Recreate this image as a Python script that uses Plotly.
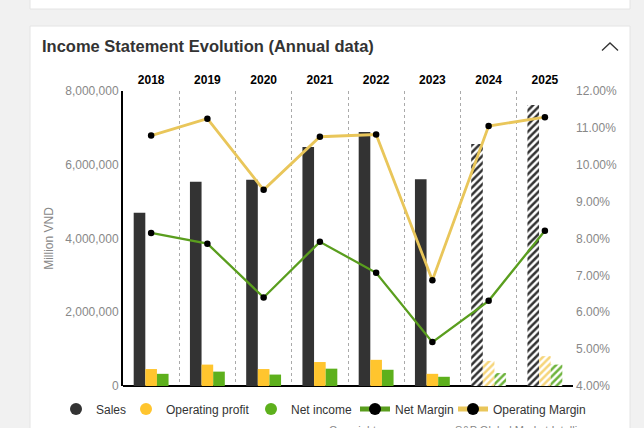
import plotly.graph_objects as go

# ---------------- data ----------------
years = ["2018", "2019", "2020", "2021", "2022", "2023", "2024", "2025"]
sales = [4700000, 5540000, 5590000, 6480000, 6890000, 5610000, 6560000, 7620000]
operating_profit = [460000, 580000, 460000, 650000, 710000, 330000, 680000, 810000]
net_income = [330000, 390000, 310000, 470000, 440000, 250000, 350000, 580000]
net_margin = [8.15, 7.86, 6.40, 7.91, 7.07, 5.19, 6.31, 8.21]
operating_margin = [10.79, 11.25, 9.32, 10.76, 10.82, 6.87, 11.05, 11.29]
forecast = [False, False, False, False, False, False, True, True]

# ---------------- layout helpers (pixel -> paper) ----------------
W, H = 644, 428
L, R, T, B = 123, 573, 91, 386
def px(x):
    return (x - L) / (R - L)
def py(y):
    return (B - y) / (B - T)

FONT = "Liberation Sans, Arial, sans-serif"
SALES_C = "#333333"
OP_C = "#FFC52E"
NI_C = "#5DB01C"
OPM_LINE = "#E9C65A"
NM_LINE = "#5A9E1E"


def hatched(base, hatch_fg):
    return dict(
        color=base,
        pattern=dict(
            shape=["/" if f else "" for f in forecast],
            fgcolor=[hatch_fg if f else base for f in forecast],
            bgcolor="white",
            fillmode="replace",
            size=5,
            solidity=0.5,
        ),
        line=dict(width=0),
    )

fig = go.Figure()

fig.add_trace(go.Bar(name="Sales", x=years, y=sales, marker=hatched(SALES_C, SALES_C),
                     showlegend=False, legendgroup="s"))
fig.add_trace(go.Bar(name="Operating profit", x=years, y=operating_profit,
                     marker=hatched(OP_C, "#F6D57A"), showlegend=False, legendgroup="o"))
fig.add_trace(go.Bar(name="Net income", x=years, y=net_income,
                     marker=hatched(NI_C, "#6DB33C"), showlegend=False, legendgroup="n"))

# legend entries with circle symbols for bar series
for nm, c, g, lg in [("Sales", SALES_C, "s", "legend"), ("Operating profit", OP_C, "o", "legend2"),
                     ("Net income", NI_C, "n", "legend3")]:
    fig.add_trace(go.Scatter(name=nm, x=[None], y=[None], mode="markers",
                             marker=dict(symbol="circle", size=9, color=c),
                             legendgroup=g, showlegend=True, legend=lg))

fig.add_trace(go.Scatter(name="Net Margin", x=years, y=net_margin, yaxis="y2",
                         mode="lines+markers", legend="legend4",
                         line=dict(color=NM_LINE, width=2.3),
                         marker=dict(color="black", size=6.5)))
fig.add_trace(go.Scatter(name="Operating Margin", x=years, y=operating_margin, yaxis="y2",
                         mode="lines+markers", legend="legend5",
                         line=dict(color=OPM_LINE, width=2.8),
                         marker=dict(color="black", size=6.5)))

shapes = [
    # page cards
    dict(type="rect", xref="paper", yref="paper", x0=px(30), x1=px(630), y0=py(-20), y1=py(9),
         fillcolor="white", line=dict(color="#e4e4e4", width=1), layer="below"),
    dict(type="rect", xref="paper", yref="paper", x0=px(30), x1=px(630), y0=py(450), y1=py(26),
         fillcolor="white", line=dict(color="#e4e4e4", width=1), layer="below"),
    # chevron icon
    dict(type="path", xref="paper", yref="paper",
         path=f"M {px(602)} {py(50.5)} L {px(610)} {py(43)} L {px(618)} {py(50.5)}",
         line=dict(color="#333333", width=1.3)),
]

annotations = [
    dict(text="<b>Income Statement Evolution (Annual data)</b>", xref="paper", yref="paper",
         x=px(40), y=py(46), xanchor="left", yanchor="middle", showarrow=False,
         font=dict(family=FONT, size=16.5, color="#333333")),
    dict(text="Copyright", xref="paper", yref="paper", x=px(327), y=py(422),
         xanchor="left", yanchor="top", showarrow=False,
         font=dict(family=FONT, size=11, color="#888888")),
    dict(text="S&P Global Market Intelligence", xref="paper", yref="paper", x=px(453), y=py(422),
         xanchor="left", yanchor="top", showarrow=False,
         font=dict(family=FONT, size=11, color="#888888")),
]

def legend_at(text_x, off=40):
    return dict(
        orientation="h", x=px(text_x - off), xanchor="left", y=py(409), yanchor="middle",
        bgcolor="rgba(0,0,0,0)", font=dict(family=FONT, size=12, color="#333333"),
        itemsizing="constant", borderwidth=0,
    )

fig.update_layout(
    width=W, height=H, autosize=False,
    margin=dict(l=L, r=W - R, t=T, b=H - B, pad=0, autoexpand=False),
    paper_bgcolor="#F1F1F1", plot_bgcolor="white",
    barmode="group", bargap=0.38, bargroupgap=0,
    font=dict(family=FONT, size=12, color="#333333"),
    shapes=shapes, annotations=annotations,
    xaxis=dict(
        type="category", side="top", tickson="boundaries",
        showgrid=True, gridcolor="#AAAAAA", griddash="dot", gridwidth=1,
        ticks="", showline=False, zeroline=False, ticklabelstandoff=4,
        tickfont=dict(family=FONT, size=12, color="black", weight="bold"),
        automargin=False,
    ),
    yaxis=dict(
        range=[0, 8000000], dtick=2000000, tickformat=",",
        showgrid=False, showline=True, linecolor="black", linewidth=2,
        zeroline=True, zerolinecolor="black", zerolinewidth=2,
        ticks="", tickfont=dict(family=FONT, size=12, color="#888888"),
        title=dict(text="Million VND", font=dict(family=FONT, size=12, color="#888888"), standoff=9),
        automargin=False,
    ),
    yaxis2=dict(
        overlaying="y", side="right", range=[4, 12], dtick=1,
        tickformat=".2f", ticksuffix="%", showgrid=False, zeroline=False, showline=False,
        ticks="", tickfont=dict(family=FONT, size=12, color="#888888"), ticklabelstandoff=2,
        automargin=False,
    ),
    legend=legend_at(96),
    legend2=legend_at(166),
    legend3=legend_at(291),
    legend4=legend_at(397, 42),
    legend5=legend_at(495, 42),
)

fig.write_html("out.html", config={"displayModeBar": False},
               post_script="document.body.style.margin='0';document.body.style.overflow='hidden';")
